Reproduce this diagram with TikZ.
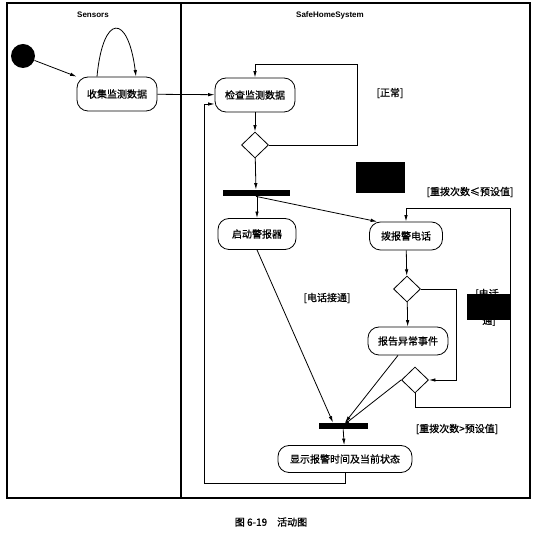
\documentclass[tikz,border=0pt]{standalone}
\usepackage{fontspec}
\setmainfont{Liberation Sans}
\newfontfamily\cjk[FakeBold=0.8]{Noto Sans CJK SC}
\usetikzlibrary{shapes.geometric,arrows.meta}

\tikzset{
  act/.style={draw, rounded corners=11pt, inner sep=0pt, font=\cjk\fontsize{10}{12}\selectfont},
  dec/.style={draw, diamond, inner sep=0pt, minimum width=27pt, minimum height=26pt},
  bar/.style={fill, inner sep=0pt, minimum height=6pt},
  guard/.style={font=\cjk\fontsize{10}{12}\selectfont},
  lane/.style={font=\bfseries\fontsize{8}{10}\selectfont}
}

\begin{document}
\begin{tikzpicture}[x=1pt,y=-1pt,line width=0.8pt,>={Latex[length=6.5pt,width=3.5pt]}]
\useasboundingbox (0,0) rectangle (539,534);
\draw[line width=1.3pt] (7,3) rectangle (530,498);
\draw[line width=1.1pt] (181,3) -- (181,498);
\node[lane] (sensors) at (93,15){Sensors};
\node[lane] (system) at (330,15){SafeHomeSystem};
\node[circle, fill, minimum size=24pt, inner sep=0pt] (start) at (23,56){};
\node[act, minimum width=80pt, minimum height=34pt] (collect) at (117,94){收集监测数据};
\node[act, minimum width=80pt, minimum height=34pt] (check) at (255,95){检查监测数据};
\node[dec] (d1) at (255,145){};
\node[bar, minimum width=67pt] (fork) at (256,193){};
\node[act, minimum width=78pt, minimum height=31pt] (siren) at (257,234){启动警报器};
\node[act, minimum width=73pt, minimum height=28pt] (dial) at (406,236){拨报警电话};
\node[dec] (d2) at (407,289){};
\node[act, minimum width=80pt, minimum height=28pt] (report) at (408,341){报告异常事件};
\node[dec] (d3) at (415,380){};
\node[bar, minimum width=49pt] (join) at (343,426){};
\node[act, minimum width=134pt, minimum height=27pt] (show) at (345,459){显示报警时间及当前状态};
\coordinate (loopA) at (357,64);
\coordinate (failA) at (456,289);
\coordinate (redialA) at (510,407);
\coordinate (redialB) at (510,208);
\coordinate (backA) at (204,483);
\coordinate (backB) at (204,104);
\draw[->] (start) -- (collect.north west);
\draw[->] ([xshift=-20pt]collect.north) .. controls (103,13) and (128,13) .. ([xshift=19pt]collect.north);
\draw[->] (collect) -- (check);
\draw[->] (check) -- (d1);
\draw[->] (d1.east) -| (loopA) -| (check.north);
\draw[->] (d1) -- (fork);
\draw[->] (fork.south -| siren.north) -- (siren.north);
\draw[->] (fork.south) -- ([xshift=8pt]dial.north west);
\draw[->] (dial) -- (d2);
\draw[->] (d2) -- (report);
\draw[->] (d2.east) -- (failA) |- (d3.east);
\draw[->] (d3.south) |- (redialA) -- (redialB) -| (dial.north);
\draw[->] (siren.south) -- ([xshift=-10pt]join.north);
\draw[->] ([xshift=-10pt]report.south) -- ([xshift=2pt]join.north);
\draw[->] (d3.west) -- ([yshift=-3pt]join.north);
\draw[->] (join) -- (show);
\draw[->] (show.south) |- (backA) -- (backB) -- (check.west |- backB);
\node[guard] (normal) at (390,93){[正常]};
\node[guard] (retry) at (470,192){[重拨次数≤预设值]};
\node[guard] (connected) at (327,298){[电话接通]};
\node[guard] (fail1) at (487,294){[电话};
\node[guard] (fail2) at (489,321){通]};
\node[guard] (giveup) at (457,429){[重拨次数>预设值]};
\fill (356,162) rectangle (405,193);
\fill (467,294) rectangle (510,320);
\node[font=\cjk\fontsize{10}{12}\selectfont] (caption) at (271,522){图 6-19\quad 活动图};
\end{tikzpicture}
\end{document}
